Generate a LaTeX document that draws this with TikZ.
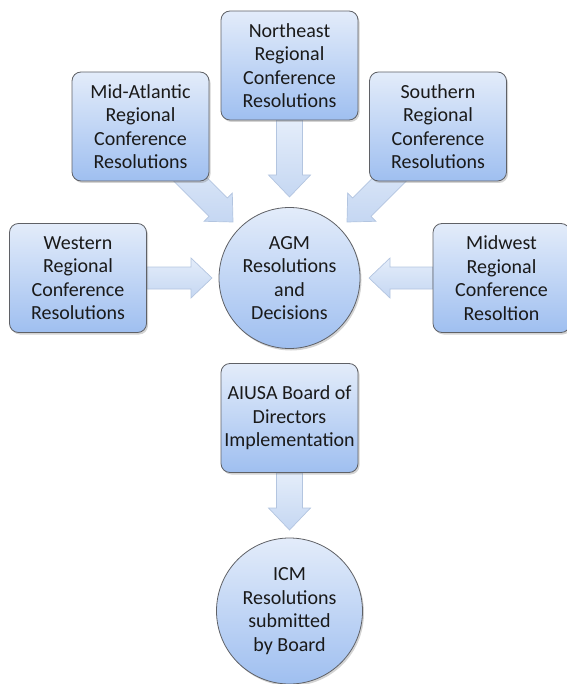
\documentclass[tikz,border=0pt]{standalone}
\usepackage{fontspec}
\setmainfont{Carlito}
\usetikzlibrary{calc,shadows,backgrounds}
\definecolor{boxtop}{HTML}{E3ECFA}
\definecolor{boxbot}{HTML}{9FBFF0}
\definecolor{boxline}{HTML}{5F6166}
\definecolor{arrtop}{HTML}{E4EDFA}
\definecolor{arrbot}{HTML}{C5D7F2}
\definecolor{arrline}{HTML}{B3C5E0}
\definecolor{txt}{HTML}{1A1A1A}
\newcommand\blkarrow[5]{%
  \coordinate (bh) at ($(#2)!#5!(#1)$);
  \path[barrow] ($(#1)!#3!90:(#2)$) -- ($(bh)!#3!-90:(#1)$) -- ($(bh)!#4!-90:(#1)$) -- (#2)
    -- ($(bh)!#4!90:(#1)$) -- ($(bh)!#3!90:(#1)$) -- ($(#1)!#3!-90:(#2)$) -- cycle;}
\tikzset{
  base/.style={draw=boxline, line width=0.8pt, top color=boxtop, bottom color=boxbot,
    text=txt, align=center, font=\fontsize{20}{23.5}\selectfont, inner sep=0pt,
    drop shadow={opacity=0.35, shadow xshift=1.5pt, shadow yshift=-2pt}},
  rbox/.style={base, rectangle, rounded corners=9pt, minimum width=137pt, minimum height=109pt},
  cnode/.style={base, circle},
  barrow/.style={draw=arrline, line width=0.7pt, top color=arrtop, bottom color=arrbot}
}
\begin{document}
\begin{tikzpicture}[x=1pt,y=1pt]
\useasboundingbox (0,0) rectangle (566,-684);
\node[rbox] (ne) at (289.5,-65.5) {Northeast\\Regional\\Conference\\Resolutions};
\node[rbox] (ma) at (140.5,-126.5) {Mid-Atlantic\\Regional\\Conference\\Resolutions};
\node[rbox] (so) at (438,-126.5) {Southern\\Regional\\Conference\\Resolutions};
\node[rbox] (we) at (78,-278) {Western\\Regional\\Conference\\Resolutions};
\node[rbox] (mw) at (501.5,-278) {Midwest\\Regional\\Conference\\Resoltion};
\node[cnode, minimum size=141pt] (agm) at (289.5,-278) {AGM\\Resolutions\\and\\Decisions};
\node[rbox] (ai) at (289.5,-418) {AIUSA Board of\\Directors\\Implementation};
\node[cnode, minimum size=146pt] (icm) at (289.5,-611) {ICM\\Resolutions\\submitted\\by Board};
\coordinate (neTip) at (289.5,-197);
\coordinate (maTail) at (163,-152);
\coordinate (maTip) at (233,-222);
\coordinate (soTail) at (417,-152);
\coordinate (soTip) at (347,-222);
\coordinate (weTip) at (212,-278);
\coordinate (mwTip) at (369,-278);
\coordinate (aiTip) at (289.5,-530);
\begin{scope}[on background layer]
\blkarrow{ne.south}{neTip}{13pt}{21pt}{22pt}
\blkarrow{maTail}{maTip}{13pt}{20pt}{21pt}
\blkarrow{soTail}{soTip}{13pt}{20pt}{21pt}
\blkarrow{we.east}{weTip}{11pt}{20pt}{21pt}
\blkarrow{mw.west}{mwTip}{11pt}{20pt}{21pt}
\blkarrow{ai.south}{aiTip}{13pt}{21pt}{22pt}
\end{scope}
\end{tikzpicture}
\end{document}
